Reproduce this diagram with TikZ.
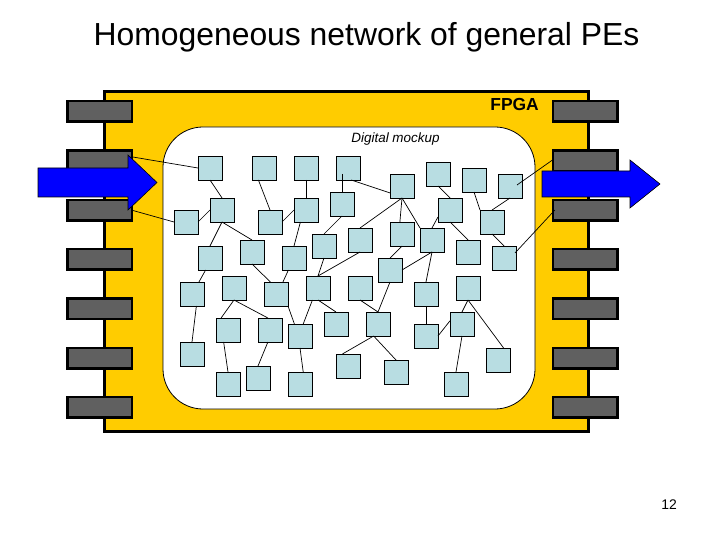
\documentclass[tikz,border=0pt]{standalone}
\usepackage{fontspec}
\setmainfont{Liberation Sans}
\usetikzlibrary{calc}
\definecolor{chipyellow}{RGB}{255,204,0}
\definecolor{pingray}{RGB}{96,96,96}
\definecolor{pebox}{RGB}{184,221,226}
\definecolor{arrowblue}{RGB}{0,0,255}
\begin{document}
\begin{tikzpicture}[x=1bp,y=-1bp,
  pe/.style={draw=black,line width=0.9bp,fill=pebox,minimum width=24bp,minimum height=24bp,inner sep=0pt,outer sep=0pt},
  pin/.style={draw=black,line width=2.5bp,fill=pingray,minimum width=64.5bp,minimum height=20.5bp,inner sep=0pt,outer sep=0pt},
  chipbody/.style={draw=black,line width=3bp,fill=chipyellow,minimum width=484bp,minimum height=340bp,inner sep=0pt,outer sep=0pt},
  mockup/.style={draw=black,line width=0.8bp,fill=white,rounded corners=40bp,minimum width=372bp,minimum height=282bp,inner sep=0pt,outer sep=0pt},
  link/.style={draw=black,line width=0.7bp},
  bigarrow/.style={draw=black,line width=0.6bp,fill=arrowblue}]
\useasboundingbox (0,0) rectangle (720,540);
% chip
\node[chipbody] (fpga) at (346.5,261.5) {};
\foreach \i in {0,...,6} {
  \node[pin] (pl\i) at (99.5,{111.5+49.33*\i}) {};
  \node[pin] (pr\i) at (585,{111.5+49.33*\i}) {};
}
\node[mockup] (mock) at (349,268) {};
% PEs
\node[pe] (b1) at (210,168) {};
\node[pe] (b2) at (264,168) {};
\node[pe] (b3) at (306,168) {};
\node[pe] (b4) at (348,168) {};
\node[pe] (b5) at (402,186) {};
\node[pe] (b6) at (438,174) {};
\node[pe] (b7) at (474,180) {};
\node[pe] (b8) at (510,186) {};
\node[pe] (b9) at (186,222) {};
\node[pe] (b10) at (222,210) {};
\node[pe] (b11) at (270,222) {};
\node[pe] (b12) at (306,210) {};
\node[pe] (b13) at (342,204) {};
\node[pe] (b14) at (402,234) {};
\node[pe] (b15) at (450,210) {};
\node[pe] (b16) at (492,222) {};
\node[pe] (b17) at (210,258) {};
\node[pe] (b18) at (252,252) {};
\node[pe] (b19) at (294,258) {};
\node[pe] (b20) at (324,246) {};
\node[pe] (b21) at (360,240) {};
\node[pe] (b22) at (432,240) {};
\node[pe] (b23) at (468,252) {};
\node[pe] (b24) at (504,258) {};
\node[pe] (b25) at (390,270) {};
\node[pe] (b26) at (192,294) {};
\node[pe] (b27) at (234,288) {};
\node[pe] (b28) at (276,294) {};
\node[pe] (b29) at (318,288) {};
\node[pe] (b30) at (360,288) {};
\node[pe] (b31) at (426,294) {};
\node[pe] (b32) at (468,288) {};
\node[pe] (b33) at (228,330) {};
\node[pe] (b34) at (270,330) {};
\node[pe] (b35) at (300,336) {};
\node[pe] (b36) at (336,324) {};
\node[pe] (b37) at (378,324) {};
\node[pe] (b38) at (426,336) {};
\node[pe] (b39) at (462,324) {};
\node[pe] (b40) at (192,354) {};
\node[pe] (b41) at (228,384) {};
\node[pe] (b42) at (258,378) {};
\node[pe] (b43) at (300,384) {};
\node[pe] (b44) at (348,366) {};
\node[pe] (b45) at (396,372) {};
\node[pe] (b46) at (456,384) {};
\node[pe] (b47) at (498,360) {};
% links
\draw[link] (b1.south) -- (b10.north);
\draw[link] (b9.east) -- (b10.west);
\draw[link] (b10.south) -- (b17.north);
\draw[link] (b10.south) -- (b18.north);
\draw[link] (b2.-115) -- (b11.north);
\draw[link] (b11.east) -- (b12.west);
\draw[link] (b3.south) -- (b12.north);
\draw[link] (b12.-115) -- (b19.north);
\draw[link] ($(b4.center)+(-6,6)$) -- (b13.north);
\draw[link] (b4.-75) -- (b5.-150);
\draw[link] (b13.south) -- (b20.north);
\draw[link] (b5.south) -- (b21.north);
\draw[link] (b5.south) -- (b14.100);
\draw[link] (b5.south) -- (b22.north west);
\draw[link] (b14.south) -- (b25.north);
\draw[link] (b25.east) -- (b22.south);
\draw[link] (b31.north) -- (b22.south);
\draw[link] (b20.south) -- (b29.north);
\draw[link] (b21.south) -- (b29.north);
\draw[link] (b6.south) -- (b15.north);
\draw[link] (b7.south) -- (b16.north west);
\draw[link] (b16.north) -- (b8.south);
\draw[link] (b15.-150) -- (b22.north);
\draw[link] (b15.south) -- (b23.north);
\draw[link] (b16.south) -- (b24.north);
\draw[link] (b31.south) -- (b38.north);
\draw[link] (b17.-110) -- (b26.60);
\draw[link] (b18.south) -- (b28.115);
\draw[link] (b19.-115) -- (b28.60);
\draw[link] (b26.-70) -- (b40.north);
\draw[link] (b27.south) -- (b33.120);
\draw[link] (b27.south) -- (b34.100);
\draw[link] (b28.south east) -- (b35.115);
\draw[link] (b33.-110) -- (b41.north);
\draw[link] (b34.-100) -- (b42.north);
\draw[link] (b29.-115) -- (b35.75);
\draw[link] (b29.south) -- (b36.north);
\draw[link] (b30.south) -- (b37.north);
\draw[link] (b25.south) -- (b37.north);
\draw[link] (b35.south) -- (b43.75);
\draw[link] (b37.-110) -- (b44.115);
\draw[link] (b37.-110) -- (b45.north);
\draw[link] (b32.south) -- (b39.north);
\draw[link] (b32.south) -- (b47.65);
\draw[link] (b39.165) -- (b38.east);
\draw[link] (b39.south) -- (b46.north);
% pin links
\draw[link] ($(pl1.east)+(0,-4)$) -- (b1.west);
\draw[link] ($(pl2.east)+(0,0)$) -- (b9.west);
\draw[link] ($(pr1.west)+(0,-1)$) -- ($(b8.center)+(7,-1)$);
\draw[link] ($(pr2.west)+(2,0)$) -- ($(b24.center)+(11,-5)$);
% arrows
\draw[bigarrow] (38,168) -- (128,168) -- (128,155) -- (157,182.5) -- (128,210) -- (128,197) -- (38,197) -- cycle;
\draw[bigarrow] (542,171) -- (630,171) -- (630,160) -- (660,184) -- (630,208) -- (630,197) -- (542,197) -- cycle;
% texts
\node[font=\fontsize{32}{38}\selectfont, anchor=base, inner sep=0pt] (title) at (366.5,45.5) {Homogeneous network of general PEs};
\node[font=\bfseries\fontsize{17.5}{20}\selectfont, anchor=base east, inner sep=0pt] (fpgalabel) at (539,111) {FPGA};
\node[font=\itshape\fontsize{13.5}{16}\selectfont, anchor=base, inner sep=0pt] (mocklabel) at (395.5,143) {Digital mockup};
\node[font=\fontsize{14}{16}\selectfont, anchor=base, inner sep=0pt] (pagenum) at (669,509) {12};
\end{tikzpicture}
\end{document}
